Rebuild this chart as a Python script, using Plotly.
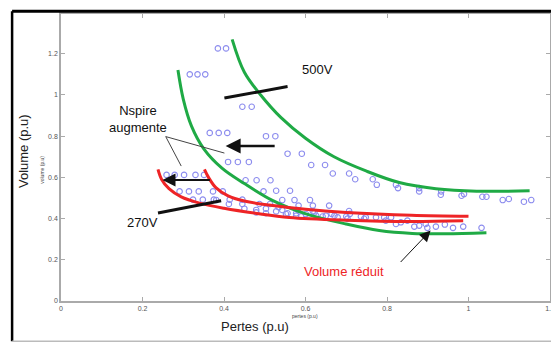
import plotly.graph_objects as go

# scatter of designs (pertes, volume) in p.u
pts_x = [0.385, 0.405, 0.316, 0.335, 0.354, 0.445, 0.468, 0.365, 0.387, 0.408,
         0.503, 0.526, 0.556, 0.591, 0.410, 0.434, 0.461, 0.614, 0.648, 0.667,
         0.707, 0.259, 0.279, 0.302, 0.330, 0.351, 0.722, 0.765, 0.775, 0.822,
         0.827, 0.879, 0.879, 0.933, 0.932, 0.983, 0.989, 1.034, 1.044, 1.084,
         1.099, 1.136, 1.154, 0.453, 0.480, 0.514, 0.528, 0.562, 0.291, 0.314,
         0.338, 0.373, 0.397, 0.497, 0.324, 0.348, 0.375, 0.414, 0.445, 0.543,
         0.573, 0.611, 0.412, 0.445, 0.487, 0.513, 0.658, 0.618, 0.583, 0.450,
         0.479, 0.503, 0.534, 0.581, 0.618, 0.479, 0.503, 0.528, 0.552, 0.577,
         0.601, 0.626, 0.650, 0.543, 0.556, 0.577, 0.589, 0.622, 0.642, 0.664,
         0.671, 0.679, 0.700, 0.707, 0.709, 0.703, 0.736, 0.748, 0.744, 0.773,
         0.793, 0.797, 0.810, 0.822, 0.834, 0.850, 0.867, 0.879, 0.895, 0.899,
         0.920, 0.942, 0.962, 0.987, 1.032, 0.381]
pts_y = [1.226, 1.226, 1.100, 1.100, 1.100, 0.943, 0.943, 0.816, 0.816, 0.816,
         0.800, 0.800, 0.715, 0.715, 0.675, 0.675, 0.675, 0.660, 0.660, 0.619,
         0.619, 0.612, 0.612, 0.612, 0.612, 0.612, 0.591, 0.591, 0.564, 0.564,
         0.548, 0.548, 0.532, 0.532, 0.516, 0.511, 0.519, 0.506, 0.506, 0.490,
         0.495, 0.482, 0.490, 0.586, 0.586, 0.586, 0.535, 0.535, 0.532, 0.532,
         0.532, 0.532, 0.532, 0.532, 0.492, 0.492, 0.492, 0.492, 0.492, 0.490,
         0.490, 0.490, 0.471, 0.471, 0.471, 0.471, 0.463, 0.463, 0.463, 0.448,
         0.442, 0.448, 0.456, 0.442, 0.436, 0.430, 0.426, 0.435, 0.422, 0.414,
         0.422, 0.414, 0.414, 0.442, 0.426, 0.426, 0.410, 0.430, 0.410, 0.423,
         0.414, 0.406, 0.410, 0.437, 0.423, 0.400, 0.410, 0.406, 0.399, 0.406,
         0.406, 0.390, 0.406, 0.374, 0.382, 0.390, 0.361, 0.366, 0.374, 0.355,
         0.361, 0.371, 0.355, 0.361, 0.355, 0.490]

# fronts
green_hi_x = [0.42, 0.45, 0.49, 0.54, 0.60, 0.67, 0.75, 0.83, 0.92, 1.02, 1.15]
green_hi_y = [1.27, 1.11, 1.00, 0.89, 0.79, 0.70, 0.63, 0.575, 0.545, 0.533, 0.535]
green_lo_x = [0.287, 0.300, 0.320, 0.350, 0.395, 0.450, 0.520, 0.601, 0.699, 0.781, 0.862, 0.944, 1.044]
green_lo_y = [1.121, 0.980, 0.850, 0.740, 0.645, 0.570, 0.487, 0.423, 0.374, 0.342, 0.328, 0.326, 0.331]
red_in_x = [0.352, 0.362, 0.380, 0.410, 0.450, 0.520, 0.600, 0.700, 0.860, 1.000]
red_in_y = [0.639, 0.600, 0.550, 0.510, 0.485, 0.463, 0.445, 0.430, 0.416, 0.411]
red_out_x = [0.238, 0.247, 0.265, 0.295, 0.340, 0.400, 0.480, 0.560, 0.700, 0.860, 0.987]
red_out_y = [0.639, 0.590, 0.545, 0.505, 0.475, 0.450, 0.425, 0.405, 0.392, 0.386, 0.390]

# annotation geometry (data units): [x0, y0, x1, y1]
line_500v = [0.401, 0.985, 0.556, 1.041]
line_270v = [0.238, 0.427, 0.393, 0.487]
arrow_hi = [0.528, 0.752, 0.404, 0.752]
arrow_lo = [0.369, 0.587, 0.249, 0.587]
arrow_vol = [0.830, 0.182, 0.907, 0.342]
leader_1 = [0.257, 0.798, 0.401, 0.718]
leader_2 = [0.257, 0.798, 0.295, 0.655]

x_ticks = [0, 0.2, 0.4, 0.6, 0.8, 1, 1.2]
y_ticks = [0, 0.2, 0.4, 0.6, 0.8, 1, 1.2]

FONT = "Liberation Sans, Arial, sans-serif"
GREEN = "#1faa45"
RED = "#ee2426"

fig = go.Figure()

fig.add_trace(go.Scatter(x=pts_x, y=pts_y, mode="markers",
                         marker=dict(symbol="circle-open", size=5.5, color="#8c8cee",
                                     line=dict(width=1.1))))

for cx, cy, col in [(green_hi_x, green_hi_y, GREEN), (green_lo_x, green_lo_y, GREEN),
                    (red_in_x, red_in_y, RED), (red_out_x, red_out_y, RED)]:
    fig.add_trace(go.Scatter(x=cx, y=cy, mode="lines",
                             line=dict(color=col, width=3, shape="spline", smoothing=1.0)))

# plain lines
for seg, w in [(line_500v, 3), (line_270v, 3), (leader_1, 1), (leader_2, 1)]:
    fig.add_shape(type="line", x0=seg[0], y0=seg[1], x1=seg[2], y1=seg[3],
                  xref="x", yref="y", line=dict(color="#111111" if w > 1 else "#444444", width=w))

# arrows
for seg, w, sz in [(arrow_hi, 2.5, 1.2), (arrow_lo, 2, 1.3), (arrow_vol, 1, 2.2)]:
    fig.add_annotation(x=seg[2], y=seg[3], ax=seg[0], ay=seg[1], xref="x", yref="y",
                       axref="x", ayref="y", text="", showarrow=True,
                       arrowhead=2, arrowsize=sz, arrowwidth=w,
                       arrowcolor="#111111", standoff=0)

# text labels
labels = [("500V", 0.629, 1.123, "#111111"),
          ("Nspire<br>augmente", 0.188, 0.885, "#111111"),
          ("270V", 0.201, 0.381, "#111111"),
          ("Volume réduit", 0.695, 0.145, RED)]
for txt, lx, ly, col in labels:
    fig.add_annotation(x=lx, y=ly, xref="x", yref="y", text=txt, showarrow=False,
                       font=dict(family=FONT, size=13, color=col))

# axis titles (big + small)
titles = [("Volume (p.u)", -0.078, 0.522, -90, 13, "#222222"),
          ("volume (p.u)", -0.039, 0.457, -90, 5, "#444444"),
          ("Pertes (p.u)", 0.396, -0.089, 0, 13, "#222222"),
          ("pertes (p.u)", 0.498, -0.054, 0, 5, "#444444")]
for txt, tx, ty, ang, sz, col in titles:
    fig.add_annotation(x=tx, y=ty, xref="paper", yref="paper", text=txt, textangle=ang,
                       xanchor="center", yanchor="middle", showarrow=False,
                       font=dict(family=FONT, size=sz, color=col))

# outer frame
fig.add_shape(type="line", xref="paper", yref="paper", x0=-0.1, x1=-0.1, y0=-0.14, y1=1.01,
              line=dict(color="black", width=2.5))
fig.add_shape(type="line", xref="paper", yref="paper", x0=-0.1, x1=1.02, y0=1.01, y1=1.01,
              line=dict(color="black", width=3))
fig.add_shape(type="line", xref="paper", yref="paper", x0=-0.1, x1=1.02, y0=-0.14, y1=-0.14,
              line=dict(color="#bbbbbb", width=1.5))

axis_style = dict(showgrid=False, zeroline=False, showline=True, linecolor="#aaaaaa",
                  linewidth=1.5, mirror="ticks", ticks="inside", ticklen=4,
                  tickcolor="#aaaaaa", tickfont=dict(family=FONT, size=7, color="#555555"))

# page body keeps an 8px margin, so the figure is 8px smaller than the window
fig.update_layout(
    width=551, height=335,
    margin=dict(l=53, r=8, t=4, b=42),
    paper_bgcolor="white", plot_bgcolor="white",
    showlegend=False,
    xaxis=dict(range=[0, 1.2], tickvals=x_ticks, **axis_style),
    yaxis=dict(range=[0, 1.393], tickvals=y_ticks, **axis_style),
)

fig.write_html("out.html")
